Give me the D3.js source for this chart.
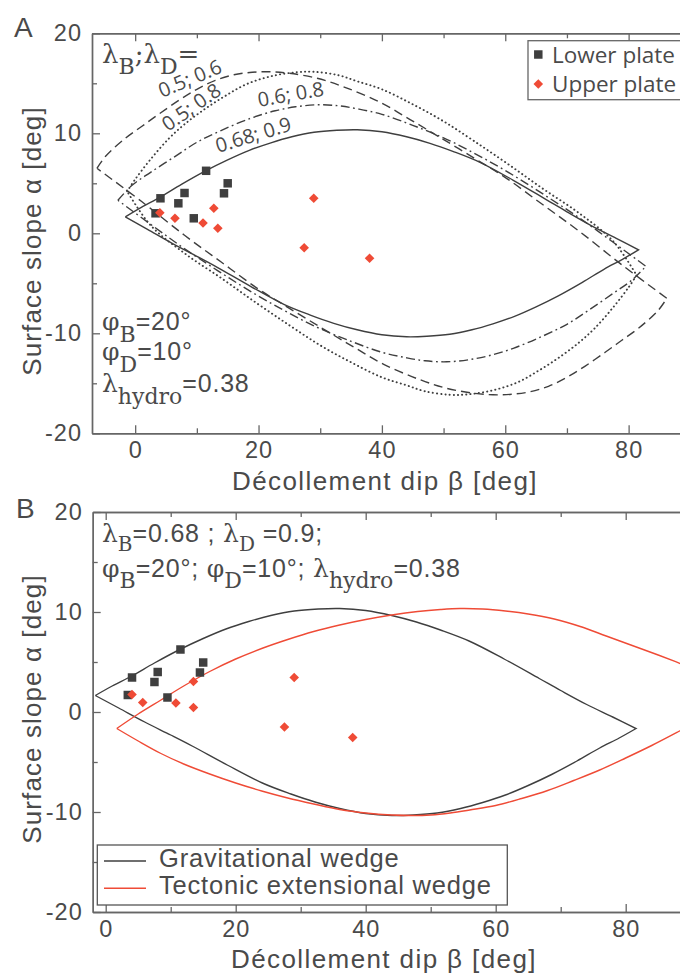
<!DOCTYPE html>
<html><head><meta charset="utf-8">
<script src="https://cdn.jsdelivr.net/npm/d3@7"></script>
<style>body{margin:0;background:#fff}svg{display:block}</style>
</head><body>
<svg id="chart" width="680" height="974"></svg>
<script>
// ---------- data ----------
const betaTicks = [0, 20, 40, 60, 80];
const betaMinor = [10, 30, 50, 70];
const alphaTicks = [-20, -10, 0, 10, 20];
const alphaMinor = [-15, -5, 5, 15];

// critical-taper envelopes, lambda_B ; lambda_D  (upper & lower branches, left tip -> right tip)
const env068_09Upper = [[-1.6,1.65],[1,2.6],[4,3.6],[7.5,4.9],[11.4,6.25],[15,7.35],[18.5,8.3],[22,9.05],[25.4,9.65],[29,10.1],[32.7,10.3],[36,10.35],[40,10.15],[44,9.65],[47.8,9.0],[51.5,8.2],[55.9,7.1],[61.3,5.3],[66.7,3.35],[70,2.15],[74,0.75],[78,-0.5],[81.6,-1.65]];
const env068_09Lower = [[-1.6,1.65],[2,0.4],[6,-1.0],[10,-2.3],[13.3,-3.4],[18.7,-5.3],[24.1,-7.1],[28.5,-8.2],[32.2,-9.0],[36,-9.65],[40,-10.15],[44,-10.35],[47.3,-10.3],[51,-10.1],[54.6,-9.65],[58,-9.05],[61.5,-8.3],[65,-7.35],[68.6,-6.25],[72.5,-4.9],[76,-3.6],[79,-2.6],[81.6,-1.65]];
const env05_06Upper = [[-6.2,6.5],[-4.8,7.7],[-1.6,9.5],[1.1,10.7],[3.8,11.9],[7.1,13.3],[10,14.4],[13,15.3],[16,15.85],[19,16.1],[22,16.15],[25,16.0],[29.5,15.5],[34,14.6],[39.7,13.1],[44.5,11.4],[49.4,9.6],[55,7.5],[60.2,5.5],[66,2.9],[72,0.2],[79,-3.2],[86.2,-6.5]];
const env05_06Lower = [[-6.2,6.5],[1,3.2],[8,-0.2],[14,-2.9],[19.8,-5.5],[25,-7.5],[30.6,-9.6],[35.5,-11.4],[40.3,-13.1],[46,-14.6],[50.5,-15.5],[55,-16.0],[58,-16.15],[61,-16.1],[64,-15.85],[67,-15.3],[70,-14.4],[72.9,-13.3],[76.2,-11.9],[78.9,-10.7],[81.6,-9.5],[84.8,-7.7],[86.2,-6.5]];
const env05_08Upper = [[-1.3,4.2],[0,5.4],[2.5,7.4],[5.5,9.5],[8,10.9],[11,12.3],[14.5,13.7],[18,14.9],[22,15.7],[26,16.1],[29,16.15],[33,15.8],[36,15.2],[40,14.4],[45,12.9],[50,11.2],[55,9.2],[60.5,6.9],[66,4.5],[72,2.0],[77.5,-0.8],[81.3,-4.2]];
const env05_08Lower = [[-1.3,4.2],[2.5,0.8],[8,-2.0],[14,-4.5],[19.5,-6.9],[25,-9.2],[30,-11.2],[35,-12.9],[40,-14.4],[44,-15.2],[47,-15.8],[51,-16.15],[54,-16.1],[58,-15.7],[62,-14.9],[65.5,-13.7],[69,-12.3],[72,-10.9],[74.5,-9.5],[77.5,-7.4],[80,-5.4],[81.3,-4.2]];
const env06_08Upper = [[-2.8,3.3],[-0.5,4.8],[2.5,6.1],[6.5,7.7],[10,9.1],[14,10.3],[18.7,11.5],[22.7,12.25],[26,12.65],[29.5,12.85],[33,12.75],[36,12.45],[40,11.9],[45,10.8],[50.5,9.4],[55.9,7.7],[61.3,5.8],[66.7,3.7],[72.1,1.5],[77.5,-0.9],[82.8,-3.3]];
const env06_08Lower = [[-2.8,3.3],[2.5,0.9],[7.9,-1.5],[13.3,-3.7],[18.7,-5.8],[24.1,-7.7],[29.5,-9.4],[35,-10.8],[40,-11.9],[44,-12.45],[47,-12.75],[50.5,-12.85],[54,-12.65],[57.3,-12.25],[61.3,-11.5],[66,-10.3],[70,-9.1],[73.5,-7.7],[77.5,-6.0],[80.5,-4.7],[82.8,-3.3]];
// tectonic extensional wedge (panel B)
const tectonicUpper = [[1.7,-1.65],[5,-0.2],[8.5,1.2],[12,2.6],[16,4.05],[20,5.3],[24,6.35],[28,7.25],[32,8.05],[36,8.7],[40,9.25],[44,9.7],[48,10.05],[51.5,10.25],[54.5,10.35],[58,10.3],[61.5,10.1],[65,9.8],[69,9.3],[73,8.55],[77,7.6],[81,6.65],[85,5.7],[89,4.7],[93,3.7]];
const tectonicLower = [[1.7,-1.65],[5,-2.9],[8.5,-4.15],[12,-5.2],[16,-6.2],[20,-7.1],[24,-7.9],[28,-8.6],[32,-9.2],[36,-9.75],[40,-10.1],[44,-10.3],[47,-10.35],[50,-10.3],[53,-10.1],[56,-9.8],[60,-9.35],[64,-8.65],[68,-7.85],[72,-6.85],[76,-5.8],[80,-4.6],[84,-3.35],[88,-2.0],[92,-0.6]];

// observations [beta, alpha]
const lowerPlateA = [[4.1,3.5],[3.3,2.0],[7.0,3.0],[8.0,4.03],[9.5,1.5],[11.5,6.25],[14.4,4.0],[15.0,5.0]];
const upperPlateA = [[4.0,2.05],[6.45,1.5],[11.0,1.03],[12.75,2.5],[13.4,0.5],[28.95,3.5],[27.4,-1.45],[38.0,-2.5]];
const lowerPlateB = [[4.05,3.45],[3.4,1.7],[7.5,3.0],[8.0,4.0],[9.5,1.45],[11.5,6.25],[14.5,3.95],[15.0,4.95]];
const upperPlateB = [[4.05,1.75],[5.7,0.95],[10.8,0.9],[13.5,3.05],[13.5,0.45],[29.0,3.45],[27.5,-1.5],[38.0,-2.55]];

const xTitle = "Décollement dip β [deg]";
const yTitle = "Surface slope α [deg]";

// ---------- styles ----------
const SANS = "'Liberation Sans', Arial, sans-serif";
const SERIF = "'DejaVu Serif', 'Liberation Serif', serif";
const HUM = "'Open Sans', 'Noto Sans', sans-serif";
const TXT = "#4a4a4a", AXC = "#666666", LINEC = "#3f3f3f", RED = "#ef4b36", MARK = "#3f3f3f";

const svg = d3.select("#chart");

function axes(g, x, y) {
  const [y0, y1] = y.range();
  const style = sel => {
    sel.select(".domain").attr("stroke", AXC).attr("stroke-width", 1.4);
    sel.selectAll(".tick line").attr("stroke", AXC).attr("stroke-width", 1.3);
    sel.selectAll(".tick text").attr("fill", TXT).style("font-family", SANS)
      .style("font-size", "23.5px").style("letter-spacing", "1px");
  };
  g.append("g").attr("transform", `translate(0,${y0})`)
    .call(d3.axisBottom(x).tickValues(betaTicks).tickSize(-8).tickSizeOuter(0).tickPadding(8).tickFormat(d => String(d)))
    .call(style);
  g.append("g").attr("transform", `translate(0,${y0})`)
    .call(d3.axisBottom(x).tickValues(betaMinor).tickSize(-5).tickSizeOuter(0).tickFormat(""))
    .call(style);
  g.append("g").attr("transform", `translate(0,${y1})`)
    .call(d3.axisTop(x).tickValues(betaTicks).tickSize(-8).tickSizeOuter(0).tickFormat(""))
    .call(style);
  g.append("g").attr("transform", `translate(0,${y1})`)
    .call(d3.axisTop(x).tickValues(betaMinor).tickSize(-5).tickSizeOuter(0).tickFormat(""))
    .call(style);
  g.append("g").attr("transform", `translate(${x.range()[0]},0)`)
    .call(d3.axisLeft(y).tickValues(alphaTicks).tickSize(-8).tickSizeOuter(0).tickPadding(10).tickFormat(d => String(d)))
    .call(style);
  g.append("g").attr("transform", `translate(${x.range()[0]},0)`)
    .call(d3.axisLeft(y).tickValues(alphaMinor).tickSize(-5).tickSizeOuter(0).tickFormat(""))
    .call(style);
}

function titles(g, cx, xBase, cy) {
  g.append("text").attr("x", cx).attr("y", xBase).attr("text-anchor", "middle")
    .attr("fill", TXT).style("font-family", SANS).style("font-size", "26px").style("letter-spacing", "1.4px")
    .text(xTitle);
  g.append("text").attr("transform", `translate(41,${cy}) rotate(-90)`).attr("text-anchor", "middle")
    .attr("fill", TXT).style("font-family", SANS).style("font-size", "26px").style("letter-spacing", "1.1px")
    .text(yTitle);
}

function envelopePath(x, y, upper, lower) {
  const line = d3.line().x(d => x(d[0])).y(d => y(d[1])).curve(d3.curveCatmullRom.alpha(0.5));
  return line(upper) + line(lower.slice().reverse()).replace(/^M/, "L");
}

// rich text: parts = [{t, f:'serif'|'sans', sub:bool}]
function rich(g, x, y, parts, mainSize, subSize, subShift) {
  const t = g.append("text").attr("x", x).attr("y", y).attr("fill", TXT);
  let shifted = false;
  parts.forEach(p => {
    const s = t.append("tspan").text(p.t)
      .style("font-family", p.f === "serif" ? SERIF : SANS)
      .style("font-size", (p.sub ? subSize : mainSize) + "px");
    if (p.f !== "serif") s.style("letter-spacing", "0.8px");
    if (p.sub && !shifted) { s.attr("dy", subShift); shifted = true; }
    else if (!p.sub && shifted) { s.attr("dy", -subShift); shifted = false; }
  });
  return t;
}

function squares(g, x, y, data) {
  g.selectAll(null).data(data).enter().append("path")
    .attr("d", d3.symbol(d3.symbolSquare, 72)())
    .attr("transform", d => `translate(${x(d[0])},${y(d[1])})`)
    .attr("fill", MARK);
}
function diamonds(g, x, y, data) {
  g.selectAll(null).data(data).enter().append("path")
    .attr("d", d3.symbol(d3.symbolSquare, 46)())
    .attr("transform", d => `translate(${x(d[0])},${y(d[1])}) rotate(45)`)
    .attr("fill", RED);
}

// ================= Panel A =================
const xA = d3.scaleLinear().domain([-7, 90]).range([92, 690.3]);
const yA = d3.scaleLinear().domain([-20, 20]).range([433.3, 33.3]);
const gA = svg.append("g");
svg.append("clipPath").attr("id", "clipA").append("rect")
  .attr("x", 92).attr("y", 33.3).attr("width", 598).attr("height", 400);

const curvesA = gA.append("g").attr("clip-path", "url(#clipA)")
  .attr("fill", "none").attr("stroke", LINEC).attr("stroke-width", 1.4);
curvesA.append("path").attr("d", envelopePath(xA, yA, env05_06Upper, env05_06Lower)).attr("stroke-dasharray", "9,5");
curvesA.append("path").attr("d", envelopePath(xA, yA, env05_08Upper, env05_08Lower))
  .attr("stroke-dasharray", "0.2,4").attr("stroke-linecap", "round").attr("stroke-width", 1.9);
curvesA.append("path").attr("d", envelopePath(xA, yA, env06_08Upper, env06_08Lower)).attr("stroke-dasharray", "9,3.5,1.8,3.5");
curvesA.append("path").attr("d", envelopePath(xA, yA, env068_09Upper, env068_09Lower));

axes(gA, xA, yA);
titles(gA, 385, 490, 241);

squares(gA, xA, yA, lowerPlateA);
diamonds(gA, xA, yA, upperPlateA);

// curve labels
const curveLabels = [
  {t: "0.5; 0.6", x: 162, y: 98, r: -23},
  {t: "0.5; 0.8", x: 168, y: 132, r: -35},
  {t: "0.6; 0.8", x: 259, y: 107, r: -10},
  {t: "0.68; 0.9", x: 218, y: 153, r: -17}
];
gA.selectAll(null).data(curveLabels).enter().append("text")
  .attr("transform", d => `translate(${d.x},${d.y}) rotate(${d.r})`)
  .attr("fill", TXT).style("font-family", HUM).style("font-size", "20px")
  .text(d => d.t);

rich(gA, 102, 63, [{t:"λ",f:"serif"},{t:"B",f:"serif",sub:true},{t:";",f:"serif"},{t:"λ",f:"serif"},{t:"D",f:"serif",sub:true},{t:"=",f:"serif"}], 26, 22, 11);
rich(gA, 102, 330, [{t:"φ",f:"serif"},{t:"B",f:"serif",sub:true},{t:"=20°",f:"sans"}], 25, 22, 12);
rich(gA, 102, 360, [{t:"φ",f:"serif"},{t:"D",f:"serif",sub:true},{t:"=10°",f:"sans"}], 25, 22, 12);
rich(gA, 102, 392, [{t:"λ",f:"serif"},{t:"hydro",f:"serif",sub:true},{t:"=0.38",f:"sans"}], 25, 22, 12);

// legend A
const legA = gA.append("g");
legA.append("rect").attr("x", 528).attr("y", 40.7).attr("width", 170).attr("height", 59)
  .attr("fill", "#fff").attr("stroke", AXC).attr("stroke-width", 1.3);
legA.append("path").attr("d", d3.symbol(d3.symbolSquare, 72)()).attr("transform", "translate(538.3,54.5)").attr("fill", MARK);
legA.append("path").attr("d", d3.symbol(d3.symbolSquare, 46)()).attr("transform", "translate(538.3,84) rotate(45)").attr("fill", RED);
legA.append("text").attr("x", 552).attr("y", 63).attr("fill", TXT).style("font-family", HUM).style("font-size", "22.5px").text("Lower plate");
legA.append("text").attr("x", 552).attr("y", 92).attr("fill", TXT).style("font-family", HUM).style("font-size", "22.5px").text("Upper plate");

svg.append("text").attr("x", 14).attr("y", 37).attr("fill", TXT).style("font-family", SANS).style("font-size", "28px").text("A");

// ================= Panel B =================
const xB = d3.scaleLinear().domain([-2, 90]).range([92.7, 690.7]);
const yB = d3.scaleLinear().domain([-20, 20]).range([912, 512]);
const gB = svg.append("g");
svg.append("clipPath").attr("id", "clipB").append("rect")
  .attr("x", 92.7).attr("y", 512).attr("width", 598).attr("height", 400);

const curvesB = gB.append("g").attr("clip-path", "url(#clipB)").attr("fill", "none").attr("stroke-width", 1.4);
curvesB.append("path").attr("d", envelopePath(xB, yB, env068_09Upper, env068_09Lower)).attr("stroke", LINEC);
curvesB.append("path").attr("d", envelopePath(xB, yB, tectonicUpper, tectonicLower)).attr("stroke", RED);

axes(gB, xB, yB);
titles(gB, 384, 968, 709);

squares(gB, xB, yB, lowerPlateB);
diamonds(gB, xB, yB, upperPlateB);

rich(gB, 102, 542, [{t:"λ",f:"serif"},{t:"B",f:"serif",sub:true},{t:"=0.68 ; ",f:"sans"},{t:"λ",f:"serif"},{t:"D",f:"serif",sub:true},{t:" =0.9;",f:"sans"}], 25, 20, 9);
rich(gB, 102, 577, [{t:"φ",f:"serif"},{t:"B",f:"serif",sub:true},{t:"=20°; ",f:"sans"},{t:"φ",f:"serif"},{t:"D",f:"serif",sub:true},{t:"=10°; ",f:"sans"},{t:"λ",f:"serif"},{t:"hydro",f:"serif",sub:true},{t:"=0.38",f:"sans"}], 25, 22, 11);

// legend B
const legB = gB.append("g");
legB.append("rect").attr("x", 97.3).attr("y", 845).attr("width", 410).attr("height", 60)
  .attr("fill", "#fff").attr("stroke", "#555").attr("stroke-width", 1.3);
legB.append("line").attr("x1", 104).attr("x2", 146).attr("y1", 861).attr("y2", 861).attr("stroke", LINEC).attr("stroke-width", 1.5);
legB.append("line").attr("x1", 104).attr("x2", 146).attr("y1", 888.3).attr("y2", 888.3).attr("stroke", RED).attr("stroke-width", 1.5);
legB.append("text").attr("x", 159).attr("y", 867).attr("fill", TXT).style("font-family", SANS).style("font-size", "25.5px").style("letter-spacing", "0.8px").text("Gravitational wedge");
legB.append("text").attr("x", 159).attr("y", 894).attr("fill", TXT).style("font-family", SANS).style("font-size", "25.5px").style("letter-spacing", "0.8px").text("Tectonic extensional wedge");

svg.append("text").attr("x", 16).attr("y", 518).attr("fill", TXT).style("font-family", SANS).style("font-size", "28px").text("B");
</script>
</body></html>
